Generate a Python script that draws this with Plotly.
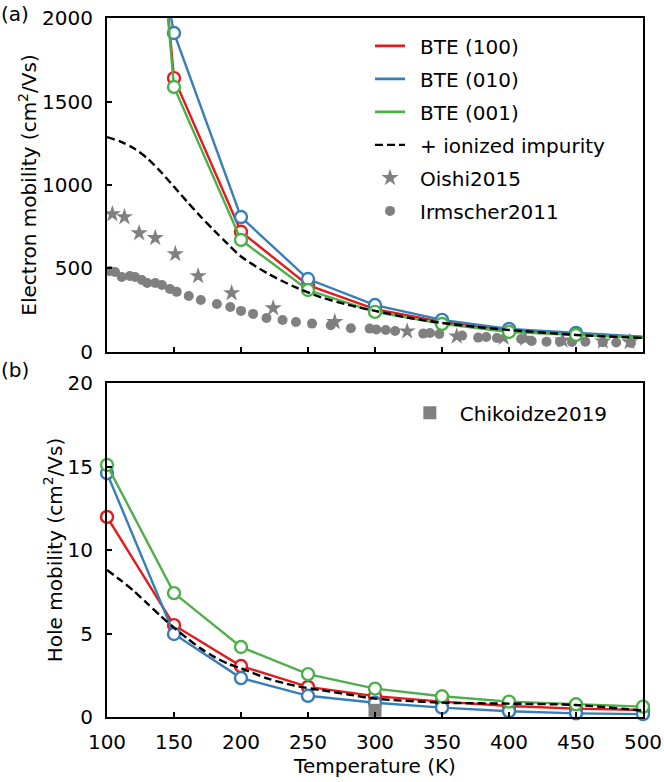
import plotly.graph_objects as go

# ---------------- data ----------------
T_bte = [100, 150, 200, 250, 300, 350, 400, 450, 500]
e_100 = [6000, 1640, 720, 400, 257, 180, 132, 108, 88]
e_010 = [4000, 1910, 808, 437, 281, 192, 138, 114, 92]
e_001 = [6200, 1587, 671, 371, 240, 168, 120, 102, 85]

T_ii_e = [100, 110, 120, 130, 140, 150, 160, 170, 180, 190, 200, 220, 240, 260, 280, 300, 325, 350, 375, 400, 450, 500]
e_ii = [1287, 1260, 1220, 1160, 1080, 990, 898, 810, 727, 648, 572, 470, 390, 327, 282, 246, 205, 174, 150, 132, 102, 84]

T_oishi = [104, 113, 124, 136, 151, 168, 193, 224, 270, 324, 361, 396, 412, 440, 470, 490]
e_oishi = [826, 808, 712, 683, 587, 455, 353, 263, 180, 124, 94, 86, 80, 70, 64, 60]

T_irm = [102, 106, 111, 117, 121, 126, 130, 136, 141, 147, 152, 161, 170, 182, 192, 200, 209, 219, 231, 241,
         253, 267, 282, 296, 301, 308, 315, 336, 341, 348, 365, 377, 383, 391, 409, 417, 428, 438, 447, 457,
         470, 480, 491]
e_irm = [485, 479, 449, 455, 449, 431, 413, 413, 401, 377, 360, 335, 311, 287, 269, 246, 228, 204, 192, 180,
         170, 160, 142, 140, 135, 132, 126, 110, 114, 108, 98, 86, 90, 84, 78, 66, 62, 62, 60, 62,
         58, 57, 54]

h_100 = [11.98, 5.5, 3.05, 1.80, 1.25, 0.92, 0.66, 0.50, 0.42]
h_010 = [14.6, 4.97, 2.33, 1.27, 0.85, 0.56, 0.34, 0.22, 0.17]
h_001 = [15.09, 7.42, 4.19, 2.57, 1.70, 1.24, 0.92, 0.76, 0.62]

T_ii_h = [100, 110, 120, 130, 140, 150, 160, 170, 180, 190, 200, 220, 240, 260, 280, 300, 350, 400, 450, 500]
h_ii = [8.8, 8.2, 7.55, 6.8, 6.05, 5.35, 4.7, 4.1, 3.6, 3.2, 2.92, 2.3, 1.88, 1.6, 1.35, 1.1, 0.86, 0.8, 0.72, 0.38]

T_chik = [300]
h_chik = [0.4]

x_ticks = [100, 150, 200, 250, 300, 350, 400, 450, 500]
y_ticks_e = [0, 500, 1000, 1500, 2000]
y_ticks_h = [0, 5, 10, 15, 20]

# ---------------- style ----------------
RED, BLUE, GREEN, GRAY = "#e41a1c", "#377eb8", "#4daf4a", "#808080"
FONT = "DejaVu Sans"
SP = "\u2002"
LW = 2.4

fig = go.Figure()

# experimental data (top)
fig.add_trace(go.Scatter(x=T_oishi, y=e_oishi, mode="markers", name=SP + "Oishi2015",
                         marker=dict(symbol="star", size=13, color=GRAY, opacity=1),
                         legendrank=5, legendgroup="g5", xaxis="x", yaxis="y"))
fig.add_trace(go.Scatter(x=T_irm, y=e_irm, mode="markers", name=SP + "Irmscher2011",
                         marker=dict(symbol="circle", size=10, color=GRAY, opacity=1),
                         legendrank=6, legendgroup="g6", xaxis="x", yaxis="y"))

# BTE curves (top)
top_sizes = [12] * (len(T_bte) - 1) + [0]
for ys, c, nm, rk in [(e_100, RED, "BTE (100)", 1), (e_010, BLUE, "BTE (010)", 2), (e_001, GREEN, "BTE (001)", 3)]:
    fig.add_trace(go.Scatter(x=T_bte, y=ys, mode="lines+markers", showlegend=False,
                             line=dict(color=c, width=LW),
                             marker=dict(symbol="circle", size=top_sizes, color="white", opacity=1,
                                         line=dict(color=c, width=LW)),
                             xaxis="x", yaxis="y"))
    fig.add_trace(go.Scatter(x=[None], y=[None], mode="lines", name=SP + nm,
                             line=dict(color=c, width=2.6), legendrank=rk, legendgroup="g%d" % rk,
                             xaxis="x", yaxis="y"))

fig.add_trace(go.Scatter(x=T_ii_e, y=e_ii, mode="lines", name=SP + "+ ionized impurity",
                         line=dict(color="black", width=LW, dash="8px,4px", shape="spline", smoothing=0.8),
                         legendrank=4, legendgroup="g4", xaxis="x", yaxis="y"))

# bottom panel
for ys, c in [(h_100, RED), (h_010, BLUE), (h_001, GREEN)]:
    fig.add_trace(go.Scatter(x=T_bte, y=ys, mode="lines+markers", showlegend=False,
                             line=dict(color=c, width=LW), cliponaxis=False,
                             marker=dict(symbol="circle", size=12, color="white", opacity=1,
                                         line=dict(color=c, width=LW)),
                             xaxis="x2", yaxis="y2"))
fig.add_trace(go.Scatter(x=T_ii_h, y=h_ii, mode="lines", showlegend=False,
                         line=dict(color="black", width=LW, dash="8px,4px", shape="spline", smoothing=0.8),
                         xaxis="x2", yaxis="y2"))
fig.add_trace(go.Scatter(x=T_chik, y=h_chik, mode="markers", name=SP + "Chikoidze2019",
                         marker=dict(symbol="square", size=13, color=GRAY, opacity=1), cliponaxis=False,
                         legend="legend2", xaxis="x2", yaxis="y2"))

axis_common = dict(showline=True, linecolor="black", linewidth=2, mirror=True,
                   ticks="inside", ticklen=5, tickwidth=2, tickcolor="black",
                   showgrid=False, zeroline=False, automargin=False,
                   tickfont=dict(family=FONT, size=20, color="black"))

fig.update_layout(
    width=664, height=782,
    margin=dict(l=107, r=21, t=18, b=65, autoexpand=False),
    paper_bgcolor="white", plot_bgcolor="white",
    font=dict(family=FONT, size=20, color="black"),
    xaxis=dict(domain=[0, 1], range=[100, 500], tickvals=x_ticks, showticklabels=False,
               anchor="y", **axis_common),
    yaxis=dict(domain=[0.5222, 1], range=[0, 2000], tickvals=y_ticks_e, anchor="x",
               ticklabelstandoff=8,
               title=dict(text="Electron mobility (cm<sup>2</sup>/Vs)", standoff=0,
                          font=dict(family=FONT, size=20)),
               **axis_common),
    xaxis2=dict(domain=[0, 1], range=[100, 500], tickvals=x_ticks, anchor="y2",
                ticklabelstandoff=6,
                title=dict(text="Temperature (K)", standoff=4, font=dict(family=FONT, size=20)),
                **axis_common),
    yaxis2=dict(domain=[0, 0.4778], range=[0, 20], tickvals=y_ticks_h, anchor="x2",
                ticklabelstandoff=8,
                title=dict(text="Hole mobility (cm<sup>2</sup>/Vs)", standoff=0,
                           font=dict(family=FONT, size=20)),
                **axis_common),
    legend=dict(x=0.4907, y=0.988, xanchor="left", yanchor="top", bgcolor="rgba(0,0,0,0)",
                font=dict(family=FONT, size=20), traceorder="grouped", tracegroupgap=4,
                itemwidth=30),
    legend2=dict(x=0.565, y=0.463, xanchor="left", yanchor="top", bgcolor="rgba(0,0,0,0)",
                 font=dict(family=FONT, size=20)),
    annotations=[
        dict(text="(a)", xref="paper", yref="paper", x=-0.1716, y=1.0057, showarrow=False,
             xanchor="center", yanchor="middle", font=dict(family=FONT, size=20)),
        dict(text="(b)", xref="paper", yref="paper", x=-0.1716, y=0.4964, showarrow=False,
             xanchor="center", yanchor="middle", font=dict(family=FONT, size=20)),
    ],
)

fig.write_html("out.html")
